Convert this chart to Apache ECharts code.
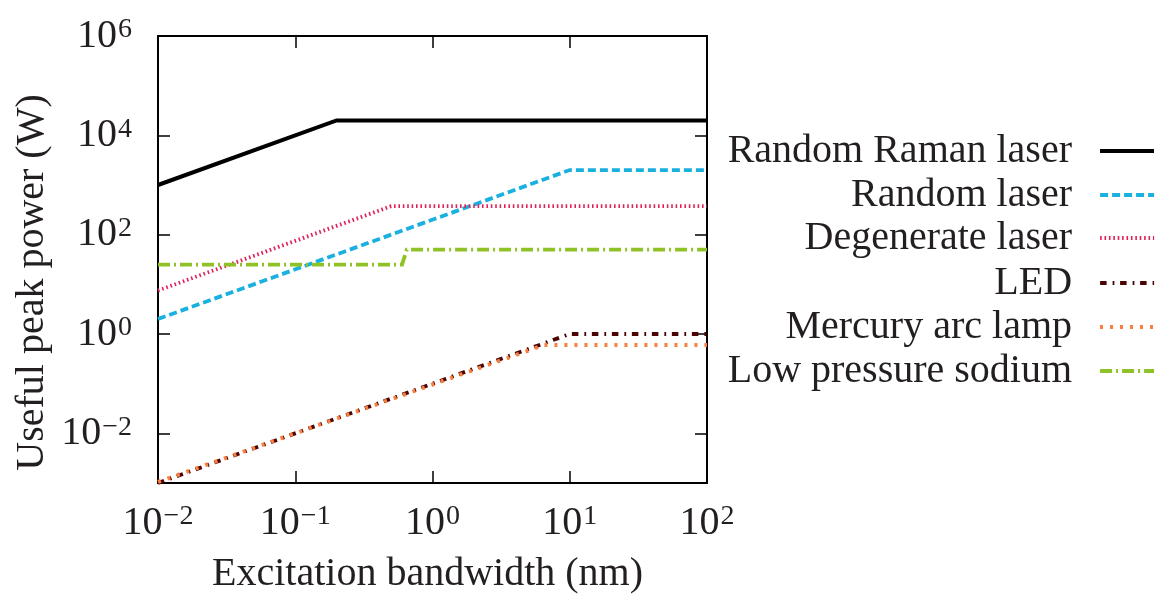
<!DOCTYPE html>
<html>
<head>
<meta charset="utf-8">
<script src="https://cdn.jsdelivr.net/npm/echarts@6/dist/echarts.min.js"></script>
<style>
  html, body { margin: 0; padding: 0; background: #ffffff; }
  #chart { width: 1156px; height: 599px; }
</style>
</head>
<body>
<div id="chart"></div>
<script>
// Source names, in drawing order
const sourceNames = [
  'Random Raman laser',
  'Random laser',
  'Degenerate laser',
  'LED',
  'Mercury arc lamp',
  'Low pressure sodium'
];

// Excitation bandwidth (nm) and useful peak power (W) break points per source
const ramanBandwidth = [0.01, 0.2, 100];
const ramanPower = [1000, 20000, 20000];

const randomBandwidth = [0.01, 10, 100];
const randomPower = [2, 2000, 2000];

const degenerateBandwidth = [0.01, 0.5, 100];
const degeneratePower = [7.5, 375, 375];

const ledBandwidth = [0.01, 10, 100];
const ledPower = [0.001, 1, 1];

const mercuryBandwidth = [0.01, 6.5, 100];
const mercuryPower = [0.00105, 0.6, 0.6];

const sodiumBandwidth = [0.01, 0.6, 0.65, 100];
const sodiumPower = [25, 25, 50, 50];

const bandwidths = [ramanBandwidth, randomBandwidth, degenerateBandwidth, ledBandwidth, mercuryBandwidth, sodiumBandwidth];
const powers = [ramanPower, randomPower, degeneratePower, ledPower, mercuryPower, sodiumPower];

// Line appearance per source
const lineColors = ['#000000', '#1ab0e0', '#e0225a', '#4b0303', '#fa8040', '#8fc226'];
const lineDashes = ['solid', [8, 4], [1.6, 2.8], [6.5, 6, 1.8, 5.7], [3, 7], [12, 4, 2, 4]];
const lineWidths = [4, 3.8, 3.8, 3.8, 4, 3.8];

// Legend row centres (px from top)
const legendRows = [151, 195, 238, 283, 327, 371];

const FONT = 'Liberation Serif';
const TEXT = '#231f20';
const SIZE = 40;

function powerLabel(v) {
  const e = Math.round(Math.log10(v));
  const s = e < 0 ? '\u2212' + Math.abs(e) : String(e);
  return '10{s|' + s + '}';
}
const labelRich = { s: { fontSize: 28, fontFamily: FONT, color: TEXT, verticalAlign: 'top', padding: [0, 0, 0, 1] } };

const chart = echarts.init(document.getElementById('chart'), null, { renderer: 'canvas' });

const frameLine = { show: true, onZero: false, lineStyle: { color: '#000', width: 2 } };
const innerTick = { show: true, inside: true, length: 12, lineStyle: { color: '#000', width: 1.5 } };

const series = sourceNames.map((name, i) => ({
  name: name,
  type: 'line',
  xAxisIndex: 0,
  yAxisIndex: 0,
  symbol: 'none',
  showSymbol: false,
  silent: true,
  clip: true,
  data: bandwidths[i].map((x, j) => [x, powers[i][j]]),
  lineStyle: { color: lineColors[i], width: lineWidths[i], type: lineDashes[i], cap: 'butt', join: 'miter' },
  itemStyle: { color: lineColors[i] },
  z: 2 + i
}));

const legends = sourceNames.map((name, i) => ({
  data: [name],
  right: 0,
  top: legendRows[i] - 22,
  orient: 'horizontal',
  align: 'right',
  padding: 0,
  itemWidth: 54,
  itemHeight: 10,
  selectedMode: false,
  itemStyle: { opacity: 0 },
  lineStyle: { color: lineColors[i], width: lineWidths[i], type: lineDashes[i], cap: 'butt' },
  textStyle: { fontFamily: FONT, fontSize: SIZE, color: TEXT, lineHeight: 44, padding: [0, 23, 0, 0] }
}));

chart.setOption({
  animation: false,
  backgroundColor: '#ffffff',
  textStyle: { fontFamily: FONT },
  grid: { left: 158, right: 449, top: 36, bottom: 114, containLabel: false },
  legend: legends,
  xAxis: [
    {
      type: 'log', logBase: 10, min: 0.01, max: 100, position: 'bottom',
      axisLine: frameLine, axisTick: innerTick, splitLine: { show: false },
      axisLabel: { margin: 20, fontFamily: FONT, fontSize: SIZE, color: TEXT, formatter: powerLabel, rich: labelRich },
      name: 'Excitation bandwidth (nm)', nameLocation: 'middle', nameGap: 71,
      nameTextStyle: { fontFamily: FONT, fontSize: SIZE, color: TEXT, padding: [0, 10, 0, 0] }
    },
    {
      type: 'log', logBase: 10, min: 0.01, max: 100, position: 'top',
      axisLine: frameLine, axisTick: innerTick, splitLine: { show: false },
      axisLabel: { show: false }
    }
  ],
  yAxis: [
    {
      type: 'log', logBase: 100, min: 0.001, max: 1e6, position: 'left',
      axisLine: frameLine, axisTick: innerTick, splitLine: { show: false },
      axisLabel: { margin: 26, showMinLabel: false, fontFamily: FONT, fontSize: SIZE, color: TEXT, formatter: powerLabel, rich: labelRich },
      name: 'Useful peak power (W)', nameLocation: 'middle', nameGap: 106,
      nameTextStyle: { fontFamily: FONT, fontSize: SIZE, color: TEXT, padding: [0, 46, 0, 0] }
    },
    {
      type: 'log', logBase: 100, min: 0.001, max: 1e6, position: 'right',
      axisLine: frameLine, axisTick: innerTick, splitLine: { show: false },
      axisLabel: { show: false }
    }
  ],
  series: series
});
</script>
</body>
</html>
